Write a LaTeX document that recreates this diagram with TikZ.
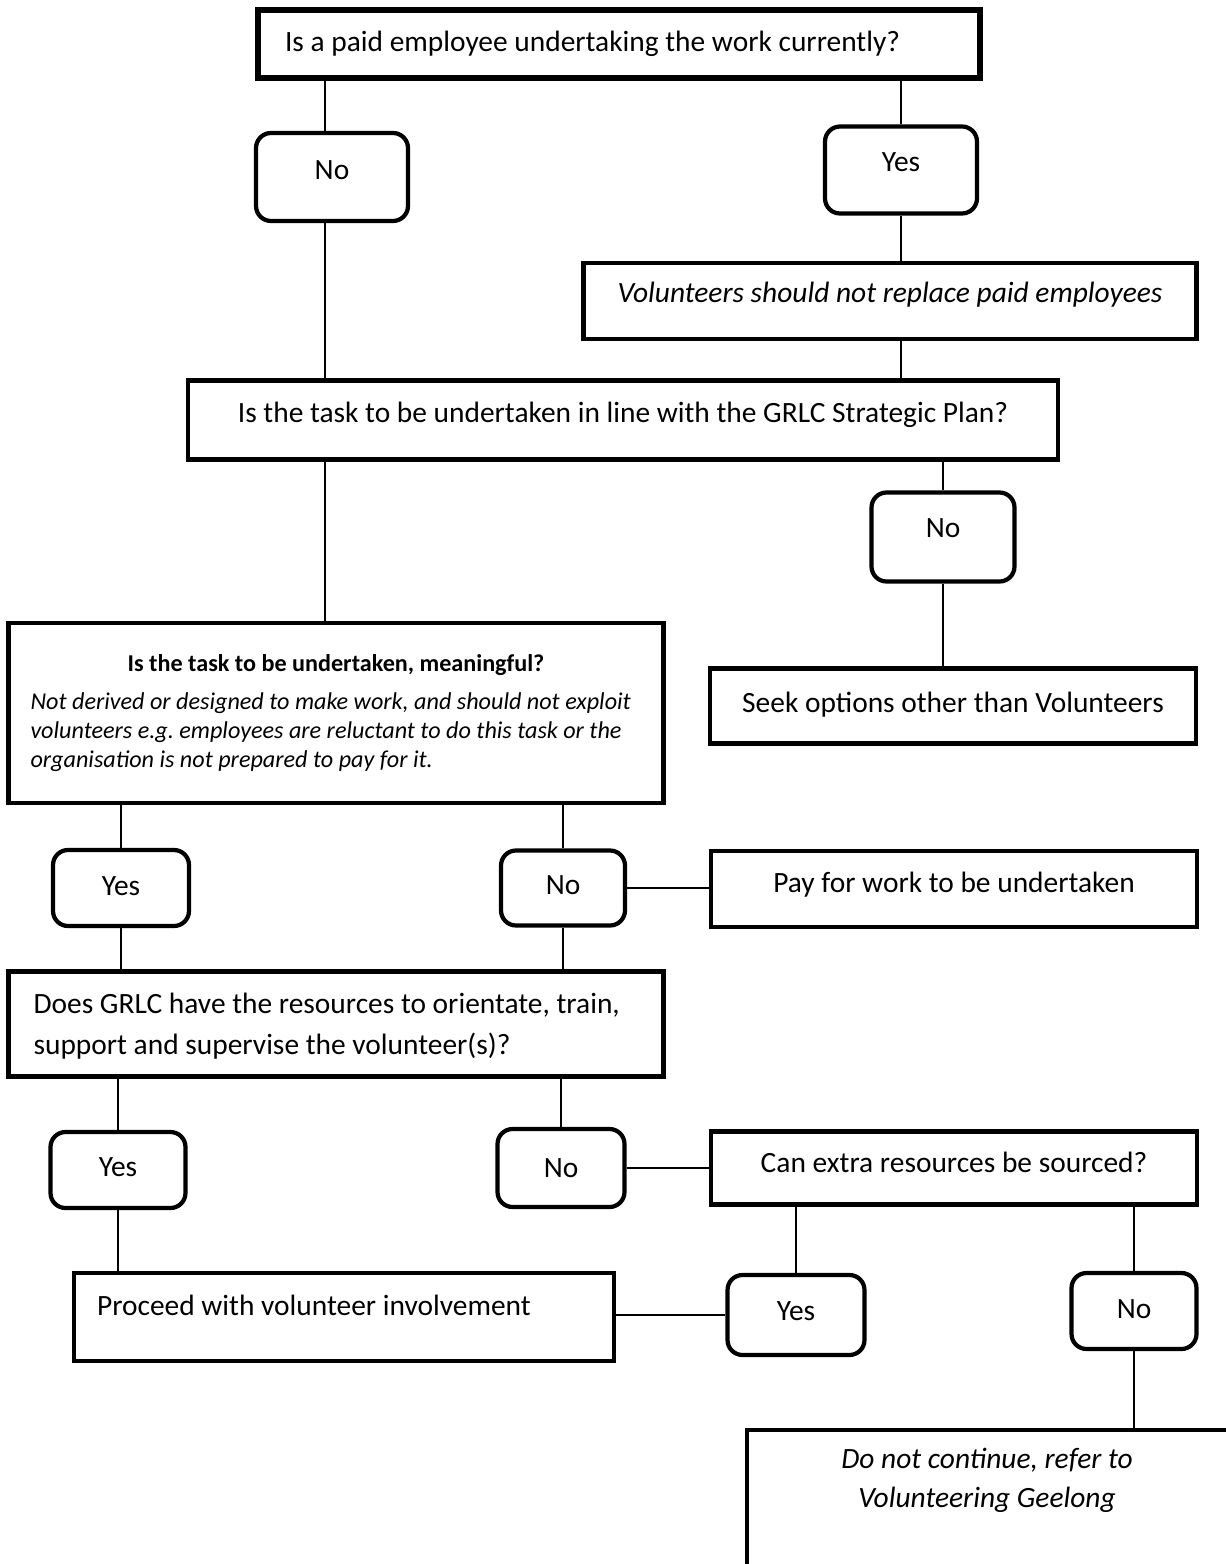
\documentclass[tikz,border=0pt]{standalone}
\usepackage{fontspec}
\setmainfont{Carlito}
\newcommand\lift[2]{\raisebox{#1}[\height][\depth]{#2}}

\begin{document}
\begin{tikzpicture}[x=0.02cm,y=-0.02cm,
    font=\fontsize{16.75}{19.3}\selectfont,
    box/.style={draw,line width=2.4pt,inner sep=0pt,align=center},
    topbox/.style={box,line width=3.4pt},
    answer/.style={box,rounded corners=0.3cm},
    link/.style={line width=1pt}]
    %\draw[help lines] (0,0) grid (1226,1564);
    \clip (0,0) rectangle (1226,1564);

    \node[topbox,minimum width=14.44cm,minimum height=1.36cm,text width=13.36cm,inner xsep=0.54cm,align=flush left] (paid) at (619,44) {Is a paid employee undertaking the work currently?};
    \node[answer,minimum width=3.04cm,minimum height=1.76cm] (paidno) at (332,177) {\lift{4pt}{No}};
    \node[answer,minimum width=3.04cm,minimum height=1.74cm] (paidyes) at (901,170) {\lift{4.5pt}{Yes}};
    \node[box,minimum width=12.26cm,minimum height=1.52cm] (replace) at (890,301) {\lift{3.4pt}{\itshape Volunteers should not replace paid employees}};

    \node[box,minimum width=17.4cm,minimum height=1.58cm] (plan) at (623,420) {\lift{2.8pt}{Is the task to be undertaken in line with the GRLC Strategic Plan?}};
    \node[answer,minimum width=2.86cm,minimum height=1.78cm] (planno) at (943,537) {\lift{4.8pt}{No}};
    \node[box,minimum width=9.72cm,minimum height=1.5cm] (seek) at (953,706) {\lift{1pt}{Seek options other than Volunteers}};

    \node[box,minimum width=13.1cm,minimum height=3.6cm,text width=12.22cm,inner xsep=0.44cm,align=flush left,
        font=\fontsize{13.75}{16.6}\selectfont] (meaning) at (336,713) {%
        \makebox[\linewidth][c]{\bfseries Is the task to be undertaken, meaningful?}\\[5pt]
        \itshape Not derived or designed to make work, and should not exploit\\
        volunteers e.g.\ employees are reluctant to do this task or the\\
        organisation is not prepared to pay for it.};
    \node[answer,minimum width=2.72cm,minimum height=1.52cm] (meanyes) at (121,888) {\lift{1.1pt}{Yes}};
    \node[answer,minimum width=2.48cm,minimum height=1.5cm] (meanno) at (563,888) {\lift{1.4pt}{No}};
    \node[box,minimum width=9.72cm,minimum height=1.52cm] (pay) at (954,889) {\lift{2.3pt}{Pay for work to be undertaken}};

    \node[box,minimum width=13.1cm,minimum height=2.1cm,text width=12.1cm,inner xsep=0.5cm,align=flush left,
        font=\fontsize{16.75}{23}\selectfont] (res) at (336,1024) {%
        \lift{-1pt}{\begin{tabular}{@{}l@{}}Does GRLC have the resources to orientate, train,\\
        support and supervise the volunteer(s)?\end{tabular}}};
    \node[answer,minimum width=2.7cm,minimum height=1.52cm] (resyes) at (118,1170) {\lift{1.7pt}{Yes}};
    \node[answer,minimum width=2.54cm,minimum height=1.56cm] (resno) at (561,1168) {No};
    \node[box,minimum width=9.72cm,minimum height=1.46cm] (extra) at (954,1168) {\lift{3.1pt}{Can extra resources be sourced?}};

    \node[box,minimum width=10.8cm,minimum height=1.76cm,text width=9.88cm,inner xsep=0.46cm,align=flush left] (proceed) at (344,1317) {\lift{6.8pt}{Proceed with volunteer involvement}};
    \node[answer,minimum width=2.74cm,minimum height=1.6cm] (extrayes) at (796,1315) {\lift{2.3pt}{Yes}};
    \node[answer,minimum width=2.5cm,minimum height=1.52cm] (extrano) at (1134,1311) {\lift{1pt}{No}};
    \node[box,anchor=north west,minimum width=10.6cm,minimum height=4cm] (refer) at (745,1428) {};
    \node[align=center,font=\fontsize{16.75}{19.3}\selectfont\itshape] (refertext) at (987,1480) {Do not continue, refer to\\[0.1cm] Volunteering Geelong};

    % connectors
    \draw[link] ([xshift=-0.14cm]paidno.north) -- ([xshift=-0.14cm]paidno.north |- paid.south);
    \draw[link] ([xshift=-0.14cm]paidno.south) -- ([xshift=-0.14cm]paidno.south |- plan.north);
    \draw[link] (paidyes) -- (paidyes |- paid.south);
    \draw[link] (paidyes) -- (paidyes |- replace.north);
    \draw[link] (replace.south -| paidyes) -- (paidyes |- plan.north);
    \draw[link] ([xshift=-0.14cm]plan.south -| paidno) -- ([xshift=-0.14cm]paidno.south |- meaning.north);
    \draw[link] (planno) -- (planno |- plan.south);
    \draw[link] (planno) -- (planno |- seek.north);
    \draw[link] (meanyes) -- (meanyes |- meaning.south);
    \draw[link] (meanno) -- (meanno |- meaning.south);
    \draw[link] (meanno) -- (meanno -| pay.west);
    \draw[link] (meanyes) -- (meanyes |- res.north);
    \draw[link] (meanno) -- (meanno |- res.north);
    \draw[link] (resyes) -- (resyes |- res.south);
    \draw[link] (resno) -- (resno |- res.south);
    \draw[link] (resno) -- (resno -| extra.west);
    \draw[link] (resyes) -- (resyes |- proceed.north);
    \draw[link] (extrayes) -- (extrayes -| proceed.east);
    \draw[link] (extrayes) -- (extrayes |- extra.south);
    \draw[link] (extrano) -- (extrano |- extra.south);
    \draw[link] (extrano) -- (extrano |- refer.north);
\end{tikzpicture}
\end{document}
